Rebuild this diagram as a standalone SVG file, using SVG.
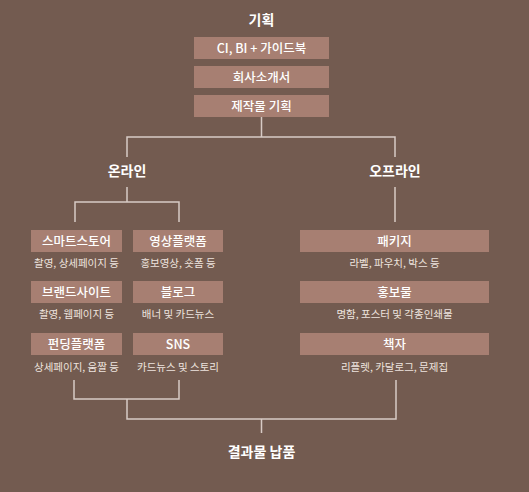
<svg xmlns="http://www.w3.org/2000/svg" width="529" height="492" viewBox="0 0 529 492">
<style>
.bg{fill:#735b50}
.box{fill:#a77f72}
.h{font-family:"Noto Sans CJK KR","Noto Sans",sans-serif;font-size:14px;font-weight:700;fill:#ffffff;text-anchor:middle}
.t{font-family:"Noto Sans CJK KR","Noto Sans",sans-serif;font-size:12.5px;font-weight:500;fill:#ffffff;text-anchor:middle}
.s{font-family:"Noto Sans CJK KR","Noto Sans",sans-serif;font-size:10.5px;fill:#eee4df;text-anchor:middle}
.ln{fill:none;stroke:#d8cbc5;stroke-width:1.5}
</style>
<rect class="bg" x="0" y="0" width="529" height="492"/>
<g id="connectors">
<path class="ln" d="M261.5 117 V137 M127 157 V137 H395 V157"/>
<path class="ln" d="M127 187 V202 M75 222 V202 H179 V222"/>
<path class="ln" d="M395 187 V222"/>
<path class="ln" d="M74 380 V399 H179 V380 M127 399 V419 H396 V380 M261.5 419 V433"/>
</g>
<g id="plan"><text class="h" x="261.5" y="25">기획</text></g>
<g id="ci"><rect class="box" x="194" y="37" width="135" height="22"/><text class="t" x="261.5" y="52.5">CI, BI + 가이드북</text></g>
<g id="intro"><rect class="box" x="194" y="66" width="135" height="22"/><text class="t" x="261.5" y="81.5">회사소개서</text></g>
<g id="prod"><rect class="box" x="194" y="95" width="135" height="22"/><text class="t" x="261.5" y="110.5">제작물 기획</text></g>
<g id="online"><text class="h" x="127" y="176">온라인</text></g>
<g id="offline"><text class="h" x="395" y="176">오프라인</text></g>
<g id="smartstore"><rect class="box" x="31" y="230" width="91" height="22"/><text class="t" x="76.5" y="245.5">스마트스토어</text><text class="s" x="76.5" y="267">촬영, 상세페이지 등</text></g>
<g id="video"><rect class="box" x="133" y="230" width="90" height="22"/><text class="t" x="178" y="245.5">영상플랫폼</text><text class="s" x="178" y="267">홍보영상, 숏폼 등</text></g>
<g id="brand"><rect class="box" x="31" y="281" width="91" height="22"/><text class="t" x="76.5" y="296.5">브랜드사이트</text><text class="s" x="76.5" y="318">촬영, 웹페이지 등</text></g>
<g id="blog"><rect class="box" x="133" y="281" width="90" height="22"/><text class="t" x="178" y="296.5">블로그</text><text class="s" x="178" y="318">배너 및 카드뉴스</text></g>
<g id="funding"><rect class="box" x="31" y="333" width="91" height="22"/><text class="t" x="76.5" y="348.5">펀딩플랫폼</text><text class="s" x="76.5" y="371">상세페이지, 움짤 등</text></g>
<g id="sns"><rect class="box" x="133" y="333" width="90" height="22"/><text class="t" x="178" y="348.5">SNS</text><text class="s" x="178" y="371">카드뉴스 및 스토리</text></g>
<g id="package"><rect class="box" x="300" y="230" width="189" height="22"/><text class="t" x="394.5" y="245.5">패키지</text><text class="s" x="394.5" y="267">라벨, 파우치, 박스 등</text></g>
<g id="promo"><rect class="box" x="300" y="281" width="189" height="22"/><text class="t" x="394.5" y="296.5">홍보물</text><text class="s" x="394.5" y="318">명함, 포스터 및 각종인쇄물</text></g>
<g id="book"><rect class="box" x="300" y="333" width="189" height="22"/><text class="t" x="394.5" y="348.5">책자</text><text class="s" x="394.5" y="371">리플렛, 카달로그, 문제집</text></g>
<g id="delivery"><text class="h" x="261.5" y="457">결과물 납품</text></g>
</svg>
